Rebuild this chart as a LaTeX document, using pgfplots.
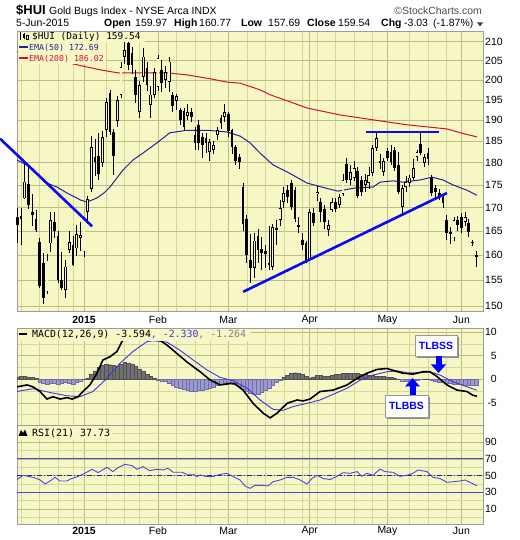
\documentclass[border=0pt]{standalone}
\usepackage{pgfplots}
\pgfplotsset{compat=1.18}
\usepackage{fontspec}
\setmainfont{Liberation Sans}
\newfontfamily\legfont{DejaVu Sans Mono}

\definecolor{bgy}{HTML}{F7F7C6}
\definecolor{gridc}{HTML}{D4D7A0}
\definecolor{gridm}{HTML}{B9BE86}
\definecolor{framec}{HTML}{9C9C9C}
\definecolor{emafifty}{HTML}{22229A}
\definecolor{ematwo}{HTML}{D0103A}
\definecolor{trend}{HTML}{0A0AF0}
\definecolor{sigc}{HTML}{4433DD}
\definecolor{histneg}{HTML}{9A9ACC}
\definecolor{histnegd}{HTML}{6E6EAA}
\definecolor{histpos}{HTML}{707070}
\definecolor{histposd}{HTML}{505050}
\definecolor{rsic}{HTML}{4A4ADA}
\definecolor{tri}{HTML}{6B2060}

\newcommand\hdr{\fontsize{10.5}{12}\selectfont}

% filled (down) candle: i, open, high, low, close
\newcommand\candledn[5]{%
  \addplot[black, line width=0.75bp] coordinates {(#1,#3) (#1,#4)};
  \addplot[black, line width=2.7bp] coordinates {(#1,#2) (#1,#5)};}
% hollow (up) candle: i, open, high, low, close
\newcommand\candleup[5]{%
  \addplot[black, line width=0.75bp] coordinates {(#1,#3) (#1,#4)};
  \addplot[black, line width=2.9bp] coordinates {(#1,#2) (#1,#5)};
  \addplot[bgy, line width=1.3bp, shorten <=0.7bp, shorten >=0.7bp] coordinates {(#1,#2) (#1,#5)};}

\pgfplotsset{
  panel/.style={
    scale only axis, width=466bp, xmin=-18.11, xmax=107.84,
    axis background/.style={fill=bgy},
    axis line style={framec, line width=0.8bp},
    major tick length=0pt, minor tick length=0pt,
    xtick={0,20,39,61,82,102},
    minor xtick={-17,-12,-7,-3,6,11,15,25,30,34,44,49,54,59,63,68,73,78,88,93,98},
    xmajorgrids=true, xminorgrids=true,
    major grid style={gridm, line width=0.6bp},
    minor grid style={gridc, line width=0.6bp},
    yticklabel pos=right,
    tick label style={font=\hdr},
  }
}

\begin{document}
\begin{tikzpicture}

% ---------------- price panel (logarithmic price scale) ----------------
\begin{axis}[panel, name=price, at={(17bp,228.3bp)}, anchor=south west, height=280.2bp,
  y coord trafo/.code={\pgfmathparse{100*ln(#1)}},
  y coord inv trafo/.code={\pgfmathparse{exp(#1/100)}},
  ymin=148.89, ymax=212.75,
  ytick={150,155,160,165,170,175,180,185,190,195,200,205,210},
  yticklabels={150,155,160,165,170,175,180,185,190,195,200,205,210},
  ymajorgrids=true, yminorgrids=false,
  yticklabel style={anchor=west, inner sep=0pt, xshift=2bp},
  xticklabels={\textbf{2015},Feb,Mar,Apr,May,Jun},
  xticklabel style={anchor=center, inner sep=0pt, yshift=-7.8bp},
  clip=false]

% EMA(200)
\addplot[ematwo, line width=1bp] coordinates {
 (-18.1,207.3) (-9.2,205.5) (-1.9,203.9) (4.3,202.6) (9.2,201.8) (15.1,201.8)
 (22.4,201.8) (27.8,201.3) (34.1,200.3) (38.6,199.5) (42.2,199.2) (47.6,197.5)
 (50.3,196.3) (55.7,194.5) (60.3,193.0) (69.2,191.3) (78.1,190.1) (87.3,188.9)
 (92.7,188.4) (98.1,187.9) (103.0,186.7) (106.2,186.02)};
% EMA(50)
\addplot[emafifty, line width=1bp] coordinates {
 (-18.1,180.6) (-15.4,179.5) (-10.0,175.4) (-7.3,174.5) (-4.6,173.2) (-0.8,171.6)
 (0.8,171.2) (3.5,172.1) (5.4,173.2) (7.0,174.5) (10.5,178.3) (13.2,180.6)
 (15.9,182.2) (19.7,184.6) (23.2,187.0) (27.8,187.6) (33.2,187.6) (38.6,187.2)
 (42.2,186.2) (44.9,184.6) (47.6,182.2) (51.1,179.5) (54.9,177.9) (60.3,175.4)
 (64.3,174.5) (68.6,173.6) (73.2,174.3) (78.1,174.5) (80.0,175.6) (83.5,175.9)
 (86.2,175.6) (90.8,176.1) (94.1,176.7) (97.0,176.1) (99.7,175.0) (103.5,173.8)
 (106.2,172.69)};

% daily candles: index, open, high, low, close
\candledn{-18}{168.0}{169.9}{162.4}{166.2}
\candledn{-17}{168.1}{170.0}{162.2}{167.6}
\candleup{-16}{172.0}{179.9}{171.8}{175.7}
\candledn{-15}{175.3}{179.0}{169.8}{170.5}
\candledn{-14}{169.0}{173.0}{166.0}{168.3}
\candledn{-13}{167.6}{169.5}{164.8}{165.2}
\candledn{-12}{162.8}{163.5}{153.5}{153.9}
\candledn{-11}{158.5}{160.5}{150.3}{151.5}
\candleup{-10}{152.8}{160.2}{152.2}{158.9}
\candleup{-9}{162.4}{169.0}{160.6}{167.3}
\candledn{-8}{167.0}{169.0}{163.5}{165.0}
\candledn{-7}{164.0}{165.0}{154.5}{155.0}
\candledn{-6}{155.0}{160.7}{153.0}{153.5}
\candleup{-5}{153.1}{159.0}{151.6}{157.7}
\candleup{-4}{161.1}{165.0}{160.5}{162.7}
\candledn{-3}{162.0}{164.0}{157.8}{158.0}
\candleup{-2}{161.4}{166.3}{159.8}{164.4}
\candleup{-1}{163.6}{167.0}{160.8}{164.2}
\candleup{0}{160.8}{168.0}{159.6}{167.6}
\candleup{1}{169.1}{172.5}{166.5}{171.9}
\candleup{2}{174.1}{186.2}{173.5}{183.7}
\candledn{3}{181.3}{185.5}{177.0}{180.2}
\candledn{4}{181.5}{187.0}{176.0}{177.4}
\candleup{5}{180.0}{187.5}{179.0}{185.9}
\candleup{6}{187.7}{195.5}{186.0}{194.5}
\candledn{7}{196.7}{197.5}{186.5}{187.2}
\candledn{8}{187.2}{188.0}{177.2}{181.5}
\candleup{9}{189.8}{196.0}{188.5}{195.0}
\candleup{10}{196.3}{204.5}{195.5}{203.3}
\candleup{11}{205.9}{210.5}{204.0}{207.8}
\candledn{12}{209.7}{211.0}{202.5}{203.8}
\candledn{13}{207.0}{208.5}{201.5}{203.8}
\candledn{14}{200.8}{202.5}{194.3}{196.3}
\candleup{15}{192.0}{199.8}{190.6}{198.7}
\candleup{16}{200.8}{208.4}{199.5}{206.0}
\candledn{17}{203.1}{204.6}{197.2}{198.7}
\candleup{18}{193.8}{198.5}{190.5}{196.3}
\candleup{19}{196.3}{203.0}{195.5}{202.0}
\candleup{20}{198.2}{206.5}{197.2}{205.6}
\candledn{21}{202.6}{205.2}{197.0}{199.2}
\candleup{22}{200.0}{203.5}{198.0}{202.0}
\candleup{23}{199.5}{206.0}{197.0}{204.7}
\candledn{24}{196.1}{197.0}{192.0}{193.6}
\candleup{25}{194.8}{196.5}{192.5}{196.0}
\candledn{26}{192.5}{193.0}{188.8}{190.1}
\candledn{27}{192.3}{193.0}{187.5}{188.4}
\candleup{28}{191.0}{194.0}{190.0}{192.0}
\candledn{29}{192.0}{193.0}{189.5}{190.8}
\candledn{30}{186.5}{188.4}{183.0}{184.6}
\candledn{31}{188.9}{190.0}{183.0}{184.5}
\candledn{32}{186.0}{187.0}{181.0}{184.0}
\candledn{33}{185.8}{187.0}{182.3}{184.6}
\candleup{34}{182.5}{185.5}{180.5}{184.8}
\candleup{35}{183.0}{185.0}{182.0}{184.0}
\candleup{36}{186.5}{188.3}{185.3}{187.6}
\candledn{37}{190.5}{191.2}{188.0}{189.3}
\candleup{38}{190.8}{194.0}{189.5}{192.0}
\candledn{39}{191.5}{192.0}{186.0}{187.3}
\candledn{40}{187.6}{188.0}{182.0}{183.6}
\candledn{41}{183.6}{184.0}{179.5}{180.5}
\candledn{42}{181.2}{182.0}{178.6}{180.2}
\candledn{43}{174.5}{175.5}{165.0}{166.5}
\candledn{44}{167.5}{168.5}{158.5}{160.0}
\candledn{45}{159.0}{164.4}{154.5}{157.4}
\candleup{46}{157.5}{164.5}{155.5}{163.0}
\candledn{47}{164.0}{165.5}{158.5}{161.0}
\candledn{48}{161.2}{163.8}{157.0}{160.5}
\candledn{49}{160.8}{162.0}{157.5}{160.3}
\candledn{50}{158.4}{166.0}{157.0}{158.0}
\candleup{51}{157.7}{166.5}{157.0}{165.8}
\candledn{52}{165.7}{167.3}{162.0}{165.2}
\candleup{53}{167.3}{171.6}{166.0}{169.9}
\candleup{54}{171.2}{174.5}{170.0}{173.2}
\candledn{55}{173.9}{175.0}{171.0}{172.3}
\candledn{56}{175.4}{176.0}{169.5}{170.2}
\candledn{57}{173.8}{174.5}{167.0}{167.5}
\candledn{58}{166.3}{168.0}{164.6}{165.8}
\candledn{59}{163.2}{164.5}{161.0}{162.1}
\candledn{60}{162.5}{163.0}{158.5}{159.1}
\candleup{61}{159.0}{169.8}{158.8}{169.0}
\candledn{62}{168.8}{170.0}{166.0}{166.8}
\candleup{63}{172.9}{174.8}{171.4}{173.4}
\candledn{64}{171.2}{172.0}{166.9}{169.0}
\candledn{65}{169.8}{170.5}{165.5}{167.0}
\candleup{66}{165.2}{167.3}{164.0}{166.3}
\candleup{67}{169.5}{172.0}{169.0}{171.2}
\candledn{68}{171.3}{172.0}{169.0}{169.6}
\candleup{69}{170.6}{173.0}{170.0}{172.3}
\candleup{70}{173.0}{177.5}{172.5}{176.1}
\candledn{71}{179.8}{181.0}{175.5}{176.1}
\candleup{72}{176.1}{179.5}{175.0}{177.8}
\candleup{73}{176.5}{180.5}{175.8}{178.8}
\candledn{74}{178.0}{179.0}{172.0}{172.5}
\candledn{75}{176.1}{177.0}{172.5}{173.4}
\candleup{76}{175.0}{177.5}{173.5}{176.1}
\candleup{77}{175.5}{179.0}{174.0}{177.2}
\candleup{78}{177.7}{184.0}{177.0}{183.4}
\candleup{79}{183.4}{187.2}{182.8}{185.7}
\candledn{80}{180.3}{182.0}{178.5}{180.0}
\candleup{81}{177.9}{181.0}{177.0}{180.3}
\candledn{82}{182.6}{183.5}{180.5}{181.0}
\candledn{83}{182.5}{184.0}{179.5}{180.2}
\candledn{84}{182.9}{183.6}{178.0}{178.8}
\candledn{85}{179.5}{182.5}{173.0}{173.4}
\candleup{86}{170.1}{175.0}{168.8}{174.3}
\candleup{87}{174.5}{177.0}{173.5}{175.6}
\candleup{88}{175.4}{177.2}{174.5}{176.6}
\candleup{89}{176.5}{180.8}{176.0}{178.8}
\candleup{90}{181.4}{183.0}{180.5}{182.5}
\candledn{91}{184.4}{187.0}{181.8}{182.3}
\candleup{92}{180.0}{182.0}{179.0}{181.3}
\candledn{93}{182.3}{183.5}{179.5}{180.8}
\candledn{94}{176.5}{177.3}{172.5}{173.3}
\candledn{95}{174.3}{175.0}{172.0}{173.4}
\candledn{96}{173.3}{174.0}{171.6}{172.6}
\candledn{97}{172.3}{172.6}{170.0}{171.0}
\candledn{98}{167.4}{168.3}{163.1}{164.6}
\candledn{99}{164.9}{165.8}{162.3}{164.4}
\candleup{100}{163.7}{168.0}{163.0}{167.3}
\candledn{101}{167.4}{168.2}{165.0}{166.3}
\candledn{102}{167.9}{168.8}{164.5}{165.7}
\candleup{103}{166.9}{169.1}{166.0}{167.9}
\candledn{104}{166.7}{167.5}{163.7}{164.8}
\candledn{105}{162.7}{163.2}{161.8}{162.4}
\candledn{106}{159.97}{160.77}{157.69}{159.54}

% drawn trend lines
\addplot[trend, line width=2.6bp] coordinates {(-22.7,185.6) (2.2,166.0)};
\addplot[trend, line width=2.6bp] coordinates {(43.0,152.7) (98.1,173.2)};
\addplot[trend, line width=2.4bp] coordinates {(76.2,187.2) (95.9,187.2)};
\end{axis}

% ---------------- MACD panel ----------------
\begin{axis}[panel, name=macd, at={(17bp,115bp)}, anchor=south west, height=96.7bp,
  ymin=-9.72, ymax=10.85,
  ytick={-5,0,5,10}, yticklabels={-5,0,5,10},
  minor ytick={-7.5,-2.5,2.5,7.5},
  ymajorgrids=true, yminorgrids=true,
  yticklabel style={anchor=east, inner sep=0pt, xshift=14bp},
  xticklabels={}]

\addplot[ybar, bar width=1, fill=histpos, draw=histposd, line width=0.35bp] coordinates {
 (-18,0.5) (-17,0.6) (-16,0.6) (-15,0.5) (-14,0.4) (-13,0.2) (0,0.1) (1,0.3) (2,1.0)
 (3,1.8) (4,2.5) (5,2.9) (6,3.2) (7,3.1) (8,2.9) (9,2.8) (10,3.2) (11,3.6) (12,3.5)
 (13,3.2) (14,2.8) (15,2.2) (16,1.7) (17,1.1) (18,0.6) (19,0.2) (54,0.4) (55,0.9)
 (56,1.2) (57,1.4) (58,1.3) (59,1.0) (60,0.6) (61,0.3) (62,0.5) (63,0.8) (64,0.9)
 (65,0.7) (66,0.6) (67,0.8) (68,1.0) (69,1.1) (70,1.2) (71,1.2) (72,1.3) (73,1.3)
 (74,1.2) (75,1.1) (76,1.0) (77,0.9) (78,0.8) (79,0.7) (80,0.7) (81,0.6) (82,0.5)
 (83,0.4) (84,0.2) (85,0.05) (92,0.1) (93,0.1)};
\addplot[ybar, bar width=1, fill=histneg, draw=histnegd, line width=0.35bp] coordinates {
 (-12,-0.6) (-11,-0.9) (-10,-1.0) (-9,-0.8) (-8,-0.9) (-7,-1.0) (-6,-0.8) (-5,-0.6)
 (-4,-0.8) (-3,-1.0) (-2,-0.7) (-1,-0.3) (20,-0.1) (21,-0.3) (22,-0.5) (23,-0.9)
 (24,-1.3) (25,-1.6) (26,-1.9) (27,-2.2) (28,-2.4) (29,-2.5) (30,-2.5) (31,-2.4)
 (32,-2.3) (33,-2.1) (34,-1.9) (35,-1.6) (36,-1.3) (37,-1.0) (38,-0.8) (39,-0.7)
 (40,-0.7) (41,-0.9) (42,-1.4) (43,-2.0) (44,-2.6) (45,-3.0) (46,-3.2) (47,-3.1)
 (48,-2.8) (49,-2.3) (50,-1.8) (51,-1.2) (52,-0.7) (53,-0.2) (86,-0.3) (87,-0.4)
 (88,-0.5) (89,-0.4) (90,-0.2) (91,-0.05) (94,-0.1) (95,-0.4) (96,-0.6) (97,-0.7)
 (98,-0.8) (99,-0.9) (100,-1.0) (101,-1.1) (102,-1.1) (103,-1.2) (104,-1.2)
 (105,-1.3) (106,-1.264)};
% signal line
\addplot[sigc, line width=0.9bp] coordinates {
 (-18.1,-2.6) (-13.8,-2.0) (-9.2,-2.8) (-4.6,-3.5) (-1.1,-3.7) (2.4,-2.6) (6.2,0.2)
 (9.7,3.4) (13.2,5.9) (17.0,8.0) (18.6,8.2) (22.4,7.9) (25.9,6.2) (29.5,4.1)
 (33.2,2.0) (36.8,0.4) (40.3,-0.3) (44.1,-1.9) (47.6,-4.4) (51.1,-6.4) (53.8,-6.6)
 (56.5,-5.8) (60.3,-5.1) (63.8,-4.4) (67.3,-3.2) (71.1,-1.9) (74.6,-0.2) (78.1,0.9)
 (81.9,1.6) (84.6,1.8) (87.3,1.4) (90.8,1.4) (93.5,1.6) (96.2,0.9) (99.7,-0.5)
 (103.5,-1.6) (106.2,-2.33)};
% MACD line
\addplot[black, line width=1.6bp] coordinates {
 (-18.1,-1.6) (-15.4,-1.2) (-13.8,-1.6) (-11.9,-2.6) (-10.0,-4.2) (-8.4,-3.7)
 (-6.5,-4.2) (-4.6,-3.9) (-3.2,-4.2) (-1.6,-3.7) (-0.3,-2.6) (1.6,-1.2) (3.5,1.3)
 (5.1,4.1) (7.0,4.8) (8.9,5.9) (10.5,8.4) (11.4,9.4) (13.2,10.4) (15.1,10.3)
 (17.0,8.9) (18.6,8.4) (20.5,8.3) (22.4,7.3) (25.1,5.5) (27.8,3.7) (31.4,1.6)
 (34.1,-0.15) (36.8,-1.2) (39.5,-0.9) (40.8,-1.0) (43.0,-2.3) (45.7,-5.1)
 (48.4,-7.2) (50.3,-8.2) (52.2,-7.2) (54.9,-5.1) (57.6,-4.4) (59.2,-4.6) (61.1,-4.2)
 (63.8,-2.6) (67.3,-2.3) (71.1,-1.2) (73.8,0.2) (76.5,1.3) (79.2,2.1) (81.9,2.3)
 (83.5,1.9) (86.2,1.3) (88.9,1.1) (91.6,1.6) (93.5,1.6) (95.4,0.6) (98.1,-1.2)
 (100.8,-2.3) (103.5,-2.6) (105.1,-3.4) (106.2,-3.594)};
\end{axis}

% ---------------- RSI panel ----------------
\begin{axis}[panel, name=rsi, at={(17bp,16bp)}, anchor=south west, height=99bp,
  ymin=-8.02, ymax=110.54,
  ytick={10,30,50,70,90}, yticklabels={10,30,50,70,90},
  minor ytick={0,20,40,60,80,100},
  ymajorgrids=true, yminorgrids=true,
  yticklabel style={anchor=east, inner sep=0pt, xshift=14bp},
  xticklabels={\textbf{2015},Feb,Mar,Apr,May,Jun},
  xticklabel style={anchor=center, inner sep=0pt, yshift=-7bp}]
\addplot[rsic, line width=1bp] coordinates {(-18.11,70) (107.84,70)};
\addplot[rsic, line width=1bp] coordinates {(-18.11,30) (107.84,30)};
\addplot[emafifty, line width=0.8bp, dash pattern=on 5bp off 2bp on 1bp off 2bp] coordinates {(-18.11,50) (107.84,50)};
\addplot[rsic, line width=0.9bp] coordinates {
 (-18.1,45.2) (-16.5,50.3) (-13.8,47.9) (-11.9,45.0) (-10.5,39.9) (-8.6,45.2)
 (-7.8,47.9) (-6.5,43.5) (-4.6,43.5) (-3.8,45.6) (-1.9,48.5) (-0.3,51.5) (2.2,57.5)
 (3.8,53.5) (6.2,59.9) (7.8,54.7) (9.2,59.5) (11.1,63.5) (13.0,61.9) (14.3,57.5)
 (15.9,60.7) (17.8,55.9) (19.7,57.5) (21.4,56.7) (22.7,58.7) (24.1,53.9) (26.5,53.9)
 (27.8,51.5) (29.5,51.5) (30.5,48.7) (31.4,50.7) (33.2,48.7) (34.9,48.7) (36.8,51.5)
 (38.6,52.7) (40.3,48.7) (42.2,44.7) (43.5,37.5) (44.9,34.7) (46.2,38.3) (48.4,38.3)
 (49.7,37.5) (51.1,42.6) (53.0,44.7) (54.9,47.9) (56.5,47.9) (58.4,44.7) (60.3,39.9)
 (61.6,46.5) (63.0,50.3) (64.6,46.5) (66.5,45.2) (68.4,49.1) (70.0,53.4) (71.9,52.7)
 (73.8,54.7) (75.1,49.1) (76.5,52.7) (78.1,50.3) (80.0,57.8) (81.4,54.7) (83.5,53.9)
 (85.4,49.1) (87.3,50.3) (88.9,52.7) (90.3,56.7) (92.7,54.7) (94.3,47.9) (96.2,46.5)
 (98.1,41.9) (99.7,42.6) (101.6,43.5) (103.0,44.7) (104.3,41.9) (106.2,37.73)};
\end{axis}

\begin{scope}[x=1bp, y=1bp]
% ---------------- header ----------------
\node[anchor=base west, inner sep=0, font=\fontsize{13}{14}\selectfont\bfseries] at (16,525.7) {\$HUI};
\node[anchor=base west, inner sep=0, font=\hdr] at (49,525.7) {Gold Bugs Index - NYSE Arca INDX};
\node[anchor=base east, inner sep=0, font=\hdr, text=black!70] at (482,525.7) {©StockCharts.com};
\node[anchor=base west, inner sep=0, font=\hdr] at (16,513.3) {5-Jun-2015};
\node[anchor=base west, inner sep=0, font=\hdr\bfseries] at (104,513.3) {Open};
\node[anchor=base west, inner sep=0, font=\hdr] at (135,513.3) {159.97};
\node[anchor=base west, inner sep=0, font=\hdr\bfseries] at (174,513.3) {High};
\node[anchor=base west, inner sep=0, font=\hdr] at (199,513.3) {160.77};
\node[anchor=base west, inner sep=0, font=\hdr\bfseries] at (241,513.3) {Low};
\node[anchor=base west, inner sep=0, font=\hdr] at (268,513.3) {157.69};
\node[anchor=base west, inner sep=0, font=\hdr\bfseries] at (307,513.3) {Close};
\node[anchor=base west, inner sep=0, font=\hdr] at (338,513.3) {159.54};
\node[anchor=base west, inner sep=0, font=\hdr\bfseries] at (381,513.3) {Chg};
\node[anchor=base west, inner sep=0, font=\hdr] at (404,513.3) {-3.03};
\node[anchor=base west, inner sep=0, font=\hdr] at (433,513.3) {(-1.87\%)};
\fill[tri] (477,517.5) -- (483,517.5) -- (480,513.5) -- cycle;

% ---------------- legends ----------------
\fill[bgy] (17.6,498) rectangle (145,508);
\fill[bgy] (17.6,476) rectangle (106,498);
\fill[black] (19.5,501) rectangle (21,506.5);
\draw[black, line width=0.5bp] (20.25,500) -- (20.25,507.5);
\fill[black] (23,502) rectangle (24.5,505.5);
\draw[black, line width=0.5bp] (23.75,500.5) -- (23.75,507);
\draw[black, line width=0.5bp] (26.5,500.5) rectangle (28,504.5);
\node[anchor=base west, inner sep=0, font=\legfont\fontsize{9.5}{10}\selectfont] at (32,500.5) {\$HUI (Daily) 159.54};
\draw[emafifty, line width=2bp] (19,492.5) -- (27.5,492.5);
\node[anchor=base west, inner sep=0, font=\legfont\fontsize{8.3}{9}\selectfont, text=emafifty] at (29,489.5) {EMA(50) 172.69};
\draw[ematwo, line width=2bp] (19,481.5) -- (27.5,481.5);
\node[anchor=base west, inner sep=0, font=\legfont\fontsize{8.3}{9}\selectfont, text=ematwo] at (29,478.5) {EMA(200) 186.02};

\fill[bgy] (17.6,199) rectangle (250,211.2);
\draw[black, line width=2bp] (18.5,205.5) -- (27,205.5);
\node[anchor=base west, inner sep=0, font=\legfont\fontsize{9.9}{11}\selectfont] at (32,202.5)
  {MACD(12,26,9) -3.594\textcolor{sigc}{, -2.330}\textcolor{black!50}{, -1.264}};

\fill[bgy] (17.6,101) rectangle (112,114.3);
\fill[black] (18.5,104) -- (21,110) -- (23,107) -- (25,110.5) -- (27.5,104) -- cycle;
\node[anchor=base west, inner sep=0, font=\legfont\fontsize{10}{11}\selectfont] at (32,103.5) {RSI(21) 37.73};

% ---------------- signal annotations ----------------
\fill[black!45] (417,182) rectangle (459,203);
\node[draw=black!40, fill=white, line width=0.6bp, minimum width=42bp, minimum height=21bp,
  inner sep=0, text=blue, font=\fontsize{10.5}{12}\selectfont\bfseries] at (436,194.5) {TLBSS};
\fill[blue] (435.5,175) rectangle (441.5,184);
\fill[blue] (431,175.5) -- (446,175.5) -- (438.5,167) -- cycle;

\fill[black!45] (387,121) rectangle (430,143);
\node[draw=black!40, fill=white, line width=0.6bp, minimum width=43bp, minimum height=22bp,
  inner sep=0, text=blue, font=\fontsize{10.5}{12}\selectfont\bfseries] at (406.5,134) {TLBBS};
\fill[blue] (409.5,145) rectangle (415.5,154);
\fill[blue] (405,153.5) -- (420,153.5) -- (412.5,162) -- cycle;

\pgfresetboundingbox
\path[use as bounding box] (0,0) rectangle (520,540);
\end{scope}
\end{tikzpicture}
\end{document}
